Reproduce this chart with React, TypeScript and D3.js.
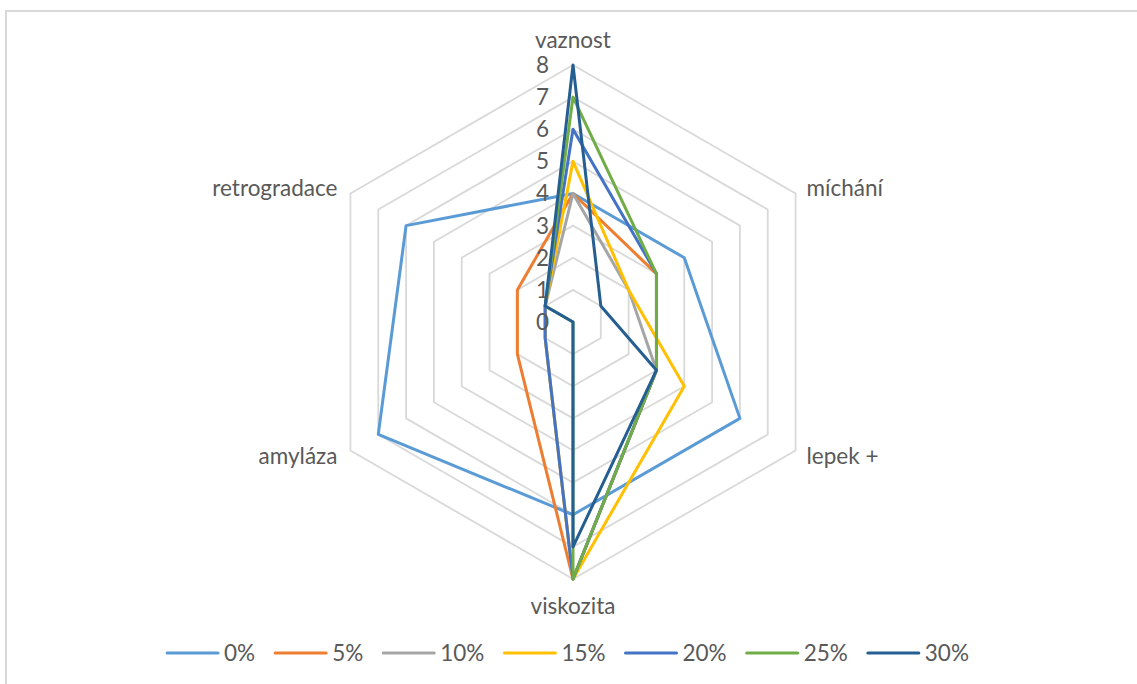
import React, { useEffect, useRef } from "react";
import * as d3 from "d3";

const categories = ["vaznost", "míchání", "lepek +", "viskozita", "amyláza", "retrogradace"];
const seriesNames = ["0%", "5%", "10%", "15%", "20%", "25%", "30%"];
const s0 = [4, 4, 6, 6, 7, 6];
const s5 = [4, 3, 3, 8, 2, 2];
const s10 = [4, 2, 3, 8, 1, 1];
const s15 = [5, 2, 4, 8, 1, 1];
const s20 = [6, 3, 3, 8, 1, 1];
const s25 = [7, 3, 3, 8, 0, 1];
const s30 = [8, 1, 3, 7, 0, 1];
const seriesValues = [s0, s5, s10, s15, s20, s25, s30];
const ticks = [0, 1, 2, 3, 4, 5, 6, 7, 8];
const colors = ["#5B9BD5", "#ED7D31", "#A5A5A5", "#FFC000", "#4472C4", "#70AD47", "#255E91"];

const W = 1137;
const H = 684;
const FONT = "Lato, 'Liberation Sans', sans-serif";

export default function App() {
  const ref = useRef<SVGSVGElement | null>(null);

  useEffect(() => {
    const svg = d3.select(ref.current);
    svg.selectAll("*").remove();

    svg.append("rect").attr("width", W).attr("height", H).attr("fill", "#ffffff");
    svg
      .append("rect")
      .attr("x", 6)
      .attr("y", 11)
      .attr("width", W + 20)
      .attr("height", H + 20)
      .attr("fill", "none")
      .attr("stroke", "#D9D9D9")
      .attr("stroke-width", 2);

    const cx = 573;
    const cy = 322;
    const R = 257;
    const r = d3.scaleLinear().domain([0, 8]).range([0, R]);
    const n = categories.length;
    const angle = d3.scaleLinear().domain([0, n]).range([0, 2 * Math.PI]);

    const g = svg.append("g").attr("transform", `translate(${cx},${cy})`);

    const radial = d3
      .lineRadial<number>()
      .angle((_, i) => angle(i))
      .radius((d) => r(d))
      .curve(d3.curveLinearClosed);

    ticks.slice(1).forEach((t) => {
      g.append("path")
        .attr("d", radial(categories.map(() => t)) as string)
        .attr("fill", "none")
        .attr("stroke", "#D9D9D9")
        .attr("stroke-width", 1.8);
    });

    seriesValues.forEach((vals, si) => {
      g.append("path")
        .attr("d", radial(vals) as string)
        .attr("fill", "none")
        .attr("stroke", colors[si])
        .attr("stroke-width", 3)
        .attr("stroke-linejoin", "round");
    });

    ticks.forEach((t) => {
      g.append("text")
        .attr("x", -24)
        .attr("y", -r(t))
        .attr("dy", "0.35em")
        .attr("text-anchor", "end")
        .attr("font-family", FONT)
        .attr("font-size", 22.5)
        .attr("fill", "#595959")
        .text(String(t));
    });

    categories.forEach((c, i) => {
      const a = angle(i);
      const sx = Math.sin(a);
      const sy = -Math.cos(a);
      const px = R * sx;
      const py = R * sy;
      let x = px;
      let y = py;
      let anchor = "middle";
      if (Math.abs(sx) < 0.01) {
        y = sy < 0 ? py - 25 : py + 27;
      } else if (sx > 0) {
        x = px + 11;
        y = sy < 0 ? py - 5 : py + 6;
        anchor = "start";
      } else {
        x = px - 13;
        y = sy < 0 ? py - 5 : py + 6;
        anchor = "end";
      }
      g.append("text")
        .attr("x", x)
        .attr("y", y)
        .attr("dy", "0.35em")
        .attr("text-anchor", anchor)
        .attr("font-family", FONT)
        .attr("font-size", 22.5)
        .attr("fill", "#595959")
        .text(c);
    });

    const lg = svg.append("g");
    const items = seriesNames.map((name, i) => {
      const it = lg.append("g");
      it.append("line")
        .attr("x1", 0)
        .attr("x2", 51)
        .attr("y1", 0)
        .attr("y2", 0)
        .attr("stroke", colors[i])
        .attr("stroke-width", 3)
        .attr("stroke-linecap", "round");
      const tx = it
        .append("text")
        .attr("x", 57)
        .attr("y", 0)
        .attr("dy", "0.35em")
        .attr("font-family", FONT)
        .attr("font-size", 22.5)
        .attr("fill", "#595959")
        .text(name);
      const w = (tx.node() as SVGTextElement).getComputedTextLength();
      return { it, w: 57 + w };
    });
    const gap = 20;
    const total = d3.sum(items, (d) => d.w) + gap * (items.length - 1);
    let x0 = 568 - total / 2;
    items.forEach((d) => {
      d.it.attr("transform", `translate(${x0},653)`);
      x0 += d.w + gap;
    });
  }, []);

  return (
    <div style={{ position: "absolute", left: 0, top: 0, width: W, height: H }}>
      <svg ref={ref} width={W} height={H} style={{ display: "block" }} />
    </div>
  );
}
